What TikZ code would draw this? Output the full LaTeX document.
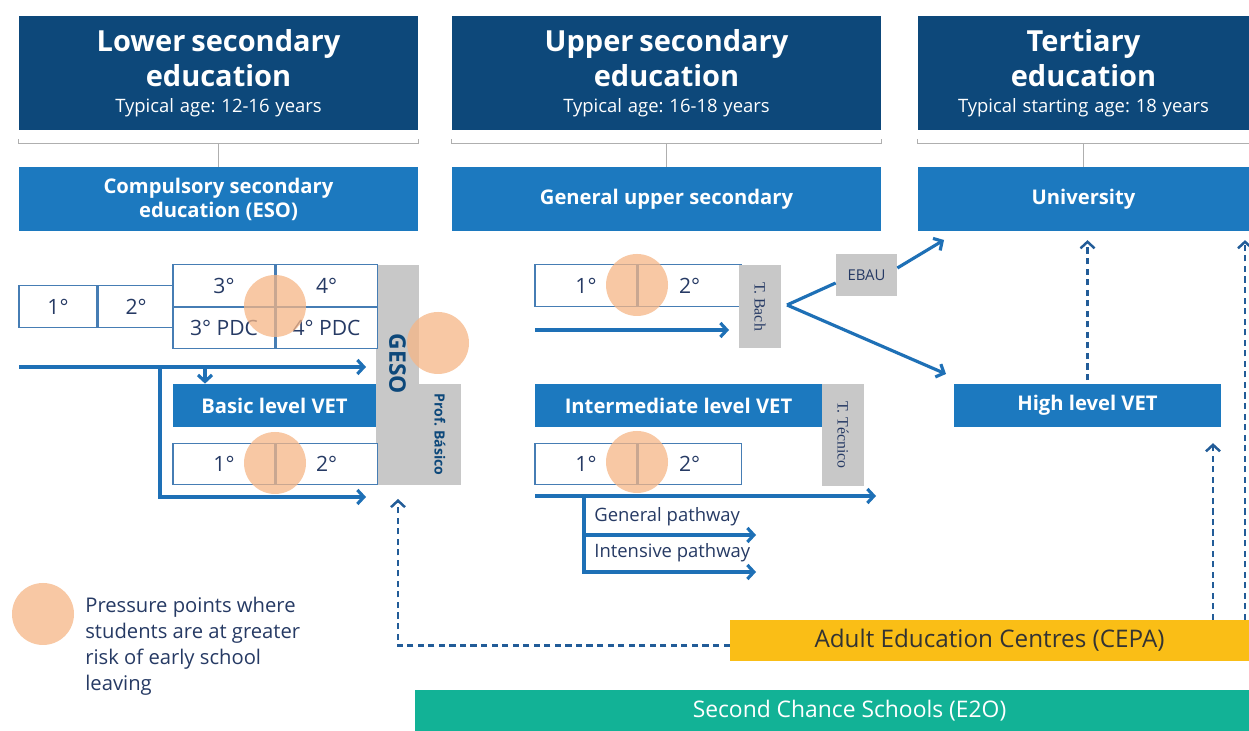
\documentclass[tikz,border=0pt]{standalone}
\usepackage{fontspec}
\setmainfont{Open Sans}
\newfontfamily\tagserif{Liberation Serif}
\usetikzlibrary{positioning,calc,arrows.meta}
\frenchspacing

\definecolor{navy}{RGB}{13,72,122}
\definecolor{midblue}{RGB}{28,121,191}
\definecolor{arrowblue}{RGB}{30,112,182}
\definecolor{dashblue}{RGB}{34,92,152}
\definecolor{cellline}{RGB}{70,125,180}
\definecolor{inkblue}{RGB}{38,58,100}
\definecolor{boxgrey}{RGB}{200,200,200}
\definecolor{bracketgrey}{RGB}{175,175,175}
\definecolor{peach}{RGB}{246,182,134}
\definecolor{cepayellow}{RGB}{250,190,22}
\definecolor{e2oteal}{RGB}{18,178,150}

\newcommand\hdrfont{\fontsize{16.5}{20}\selectfont\bfseries}
\newcommand\agefont{\fontsize{10.5}{14.8}\selectfont\mdseries}
\newcommand\subfont{\fontsize{11.5}{13.6}\selectfont\bfseries}
\newcommand\cellfont{\fontsize{12}{14}\selectfont}
\newcommand\pathfont{\fontsize{10.5}{13}\selectfont}
\newcommand\legfont{\fontsize{11.5}{14.8}\selectfont}
\newcommand\tagfont{\fontsize{9}{10}\selectfont\tagserif}
\newcommand\ebaufont{\fontsize{8.5}{10}\selectfont}

\tikzset{
  hdrbox/.style={fill=navy, text=white, align=center, minimum height=2.28cm, inner sep=0pt},
  subbox/.style={fill=midblue, text=white, align=center, minimum height=1.28cm, font=\subfont},
  vetbox/.style={fill=midblue, text=white, minimum height=0.86cm, font=\subfont},
  cellbox/.style={draw=cellline, line width=0.6pt, fill=white, text=inkblue, minimum height=0.83cm, font=\cellfont},
  greybox/.style={fill=boxgrey, text=inkblue, inner sep=0pt},
  pressure/.style={circle, fill=peach, fill opacity=0.75, minimum size=1.24cm, inner sep=0pt},
  flowline/.style={draw=arrowblue, line width=1.8pt},
  flow/.style={flowline, -{Straight Barb[length=1.3mm,width=2.8mm]}},
  dashflow/.style={draw=dashblue, line width=1.4pt, dash pattern=on 3.5pt off 2.5pt, -{Straight Barb[length=1.3mm,width=2.8mm]}},
  bracket/.style={draw=bracketgrey, line width=0.8pt},
  pathlbl/.style={anchor=west, inner sep=0pt, text=inkblue, font=\pathfont},
}

\begin{document}
\begin{tikzpicture}
\useasboundingbox[fill=white] (0,0) rectangle (24.98,14.62);

% stage headers
\node[hdrbox, text width=7.9cm, minimum width=7.98cm] (hlow) at (4.37,13.16)
  {\hdrfont Lower secondary\par education\par\vskip3pt\agefont Typical age: 12-16 years};
\node[hdrbox, text width=8.5cm, minimum width=8.58cm] (hup) at (13.33,13.16)
  {\hdrfont Upper secondary\par education\par\vskip3pt\agefont Typical age: 16-18 years};
\node[hdrbox, text width=6.5cm, minimum width=6.62cm] (hter) at (21.67,13.16)
  {\hdrfont Tertiary\par education\par\vskip3pt\agefont Typical starting age: 18 years};

\node[subbox, minimum width=7.98cm] (eso) at (4.37,10.64) {Compulsory secondary\\education (ESO)};
\node[subbox, minimum width=8.58cm] (gus) at (13.33,10.64) {General upper secondary};
\node[subbox, minimum width=6.62cm] (uni) at (21.67,10.64) {University};

\foreach \h/\s in {hlow/eso, hup/gus, hter/uni} {
  \draw[bracket] ([yshift=-5pt]\h.south west) -- ([yshift=-7.4pt]\h.south west)
    -- ([yshift=-7.4pt]\h.south east) -- ([yshift=-5pt]\h.south east);
  \draw[bracket] ([yshift=-7.4pt]\h.south) -- (\s.north);
}

% lower secondary
\node[greybox, minimum width=0.86cm, minimum height=4.40cm] (geso) at (7.95,7.12) {};
\node[greybox, minimum width=0.84cm, minimum height=2.02cm] (prof) at (8.80,5.93) {};
\node[rotate=-90, text=navy, font=\fontsize{13}{14}\selectfont\bfseries] (gesolbl) at (7.95,7.34) {GESO};
\node[rotate=-90, text=navy, font=\fontsize{8}{9}\selectfont\bfseries] (proflbl) at (prof) {Prof. Básico};

\node[cellbox, minimum width=1.56cm] (lo1) at (1.16,8.49) {1°};
\node[cellbox, minimum width=1.52cm, right=0pt of lo1] (lo2) {2°};
\node[cellbox, minimum width=2.04cm] (lo3) at (4.48,8.91) {3°};
\node[cellbox, minimum width=2.02cm, right=0pt of lo3] (lo4) {4°};
\node[cellbox, minimum width=2.04cm, below=0pt of lo3] (lo3p) {3° PDC};
\node[cellbox, minimum width=2.02cm, below=0pt of lo4] (lo4p) {4° PDC};

\node[vetbox, minimum width=4.06cm] (basic) at (5.49,6.51) {Basic level VET};
\node[cellbox, minimum width=2.04cm] (bv1) at (4.48,5.34) {1°};
\node[cellbox, minimum width=2.02cm, right=0pt of bv1] (bv2) {2°};

\coordinate (lostart) at (0.38,7.28);
\coordinate (loend) at (7.32,7.28);
\coordinate (losplit) at (3.20,7.28);
\coordinate (lodrop) at (4.10,7.28);
\coordinate (lobend) at (7.32,4.68);
\draw[flow] (lostart) -- (loend);
\draw[flow] (losplit) |- (lobend);
\draw[flow] (lodrop) -- (lodrop |- basic.north);

% upper secondary
\node[cellbox, minimum width=2.04cm] (up1) at (11.72,8.91) {1°};
\node[cellbox, minimum width=2.06cm, right=0pt of up1] (up2) {2°};
\node[greybox, rotate=-90, minimum width=1.66cm, minimum height=0.84cm, font=\tagfont] (bach) at (15.20,8.49) {T. Bach};
\node[greybox, minimum width=1.22cm, minimum height=0.84cm, font=\ebaufont] (ebau) at (17.33,9.12) {EBAU};

\node[vetbox, minimum width=5.74cm] (inter) at (13.57,6.51) {Intermediate level VET};
\node[greybox, rotate=-90, minimum width=2.04cm, minimum height=0.84cm, font=\tagfont] (tecnico) at (16.86,5.92) {T. Técnico};
\node[cellbox, minimum width=2.04cm] (iv1) at (11.72,5.34) {1°};
\node[cellbox, minimum width=2.06cm, right=0pt of iv1] (iv2) {2°};

\coordinate (upstart) at (10.70,8.02);
\coordinate (upend) at (14.58,8.02);
\draw[flow] (upstart) -- (upend);

\coordinate (ivstart) at (10.70,4.70);
\coordinate (ivend) at (17.52,4.70);
\coordinate (ivsplit) at (11.68,4.70);
\coordinate (genend) at (15.12,3.92);
\coordinate (intend) at (15.12,3.18);
\draw[flow] (ivstart) -- (ivend);
\draw[flow] (ivsplit) |- (genend);
\draw[flow] (ivsplit) |- (intend);
\node[pathlbl] (genlbl) at (11.88,4.28) {General pathway};
\node[pathlbl] (intlbl) at (11.88,3.56) {Intensive pathway};

\coordinate (bachfork) at (15.74,8.52);
\coordinate (uniin) at (18.88,9.82);
\coordinate (highin) at (18.92,7.14);
\draw[flowline] (bachfork) -- ($(ebau.west)+(0,-0.16)$);
\draw[flow] ($(ebau.east)+(0,0.14)$) -- (uniin);
\draw[flow] (bachfork) -- (highin);

% tertiary
\node[vetbox, minimum width=5.34cm] (high) at (21.75,6.51) {High level VET};

% adult and second chance
\node[fill=cepayellow, text=black!80, minimum width=10.38cm, minimum height=0.82cm,
  font=\fontsize{13.8}{15}\selectfont] (cepa) at (19.79,1.81) {Adult Education Centres (CEPA)};
\node[fill=e2oteal, text=white, minimum width=16.68cm, minimum height=0.82cm,
  font=\fontsize{13}{15}\selectfont] (e2o) at (16.64,0.41) {\hspace*{0.7cm}Second Chance Schools (E2O)};

\coordinate (gesoin) at (7.96,4.64);
\coordinate (cepaup) at (24.26,2.22);
\coordinate (cepaedge) at (24.90,2.22);
\draw[dashflow] ([yshift=-2.8pt]cepa.west) -| (gesoin);
\draw[dashflow] ([yshift=2pt]high.north) -- ([yshift=-5pt]uni.south -| high.north);
\draw[dashflow] (cepaup) -- ([yshift=-9pt]high.south -| cepaup);
\draw[dashflow] (cepaedge) -- ([yshift=-5pt]uni.south -| cepaedge);

% pressure points
\foreach \cx/\cy [count=\i] in {5.50/8.50, 8.76/7.76, 5.50/5.36, 12.74/8.92, 12.74/5.38} {
  \node[pressure] (pp\i) at (\cx,\cy) {};
}

% legend
\node[pressure] (legdot) at (0.86,2.34) {};
\node[anchor=west, align=left, inner sep=0pt, text=inkblue, font=\legfont] (legtxt) at (1.70,1.70)
  {Pressure points where\\students are at greater\\risk of early school\\leaving};
\end{tikzpicture}
\end{document}
